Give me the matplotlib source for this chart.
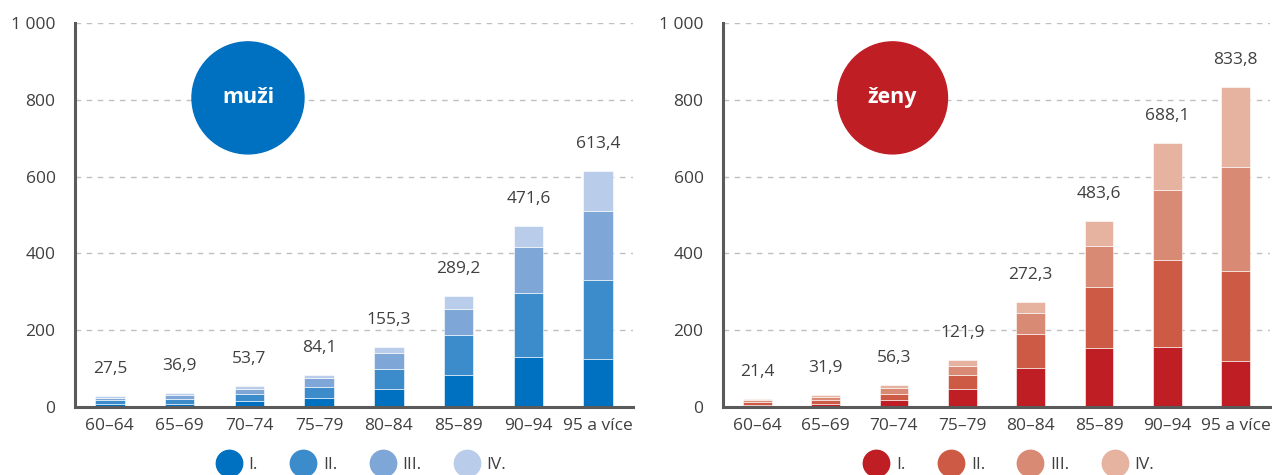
import numpy as np
import matplotlib
matplotlib.use("Agg")
import matplotlib.pyplot as plt
from matplotlib.patches import Ellipse
from matplotlib.lines import Line2D

plt.rcParams['font.family'] = ['Open Sans', 'DejaVu Sans']

# age groups and stage shares (per 100 000 inhabitants)
categories = ["60–64", "65–69", "70–74", "75–79", "80–84", "85–89", "90–94", "95 a více"]
stages = ["I.", "II.", "III.", "IV."]

muzi_total = [27.5, 36.9, 53.7, 84.1, 155.3, 289.2, 471.6, 613.4]
muzi_I   = [8, 9, 15, 23, 48, 83, 130, 124]
muzi_II  = [10, 13, 19, 29, 51, 104, 167, 206]
muzi_III = [5.5, 10, 12, 24, 42, 68, 120, 180]

zeny_total = [21.4, 31.9, 56.3, 121.9, 272.3, 483.6, 688.1, 833.8]
zeny_I   = [4, 9, 17, 48, 102, 153, 156, 120]
zeny_II  = [9, 8, 18, 36, 88, 160, 227, 235]
zeny_III = [5, 9, 15, 23, 55, 107, 183, 271]

muzi_colors = ["#0070c0", "#3c8bcb", "#7ea7d8", "#b9cdea"]
zeny_colors = ["#be1e24", "#cc5a44", "#d98a74", "#e6b3a0"]

text_col = "#404040"


def draw(ax, I, II, III, total, colors, title, leg_x):
    IV = [t - a - b - c for t, a, b, c in zip(total, I, II, III)]
    x = np.arange(len(categories))
    bottom = np.zeros(len(x))
    for vals, col in zip([I, II, III, IV], colors):
        ax.bar(x, vals, 0.42, bottom=bottom, color=col, edgecolor="#ffffff",
               linewidth=0.4, zorder=3)
        bottom += np.array(vals)
    for xi, t in zip(x, total):
        ax.annotate(f"{t:.1f}".replace(".", ","), (xi, t), xytext=(0, 19),
                    textcoords="offset pixels", ha="center", va="bottom",
                    fontsize=12.5, color=text_col)
    ax.set_xlim(-0.5, 7.5)
    ax.set_ylim(0, 1000)
    ax.set_yticks([0, 200, 400, 600, 800, 1000])
    ax.set_yticklabels(["0", "200", "400", "600", "800", "1 000"])
    ax.set_xticks(x)
    ax.set_xticklabels(categories)
    ax.tick_params(length=0, labelsize=12.5, colors=text_col)
    ax.tick_params(axis="y", pad=14)
    ax.tick_params(axis="x", pad=8)
    ax.grid(axis="y", linestyle=(0, (4, 4)), color="#c0c0c0", linewidth=1, zorder=0)
    for s in ["top", "right"]:
        ax.spines[s].set_visible(False)
    for s in ["left", "bottom"]:
        ax.spines[s].set_color("#5a5a5a")
        ax.spines[s].set_linewidth(2.2)
        ax.spines[s].set_zorder(4)
    circ = Ellipse((0.31, 0.805), 112 / 558, 112 / 384, transform=ax.transAxes,
                   color=colors[0], zorder=5)
    ax.add_patch(circ)
    ax.text(0.31, 0.805, title, transform=ax.transAxes, ha="center", va="center",
            color="white", fontsize=15.5, fontweight="bold", zorder=6)
    handles = [Line2D([], [], marker="o", linestyle="none", markersize=19,
                      markerfacecolor=c, markeredgecolor=c) for c in colors]
    ax.legend(handles, stages, loc="center", bbox_to_anchor=(leg_x, -0.152), ncol=4,
              frameon=False, fontsize=12.5, labelcolor=text_col, handletextpad=0.55,
              columnspacing=2.0, handlelength=1.2)


fig = plt.figure(figsize=(12.77, 4.75), dpi=100)
ax1 = fig.add_axes([75 / 1277, 1 - 407 / 475, 558 / 1277, 384 / 475])
ax2 = fig.add_axes([723 / 1277, 1 - 407 / 475, 547 / 1277, 384 / 475])

draw(ax1, muzi_I, muzi_II, muzi_III, muzi_total, muzi_colors, "muži", 0.515)
draw(ax2, zeny_I, zeny_II, zeny_III, zeny_total, zeny_colors, "ženy", 0.525)

fig.savefig("out.png", dpi=100)
